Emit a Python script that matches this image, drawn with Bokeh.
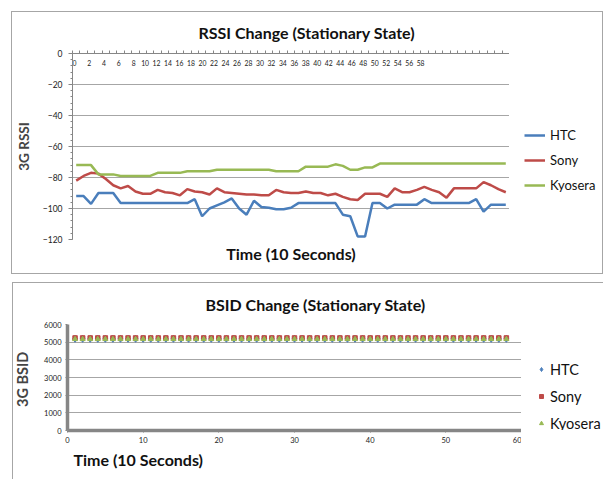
from bokeh.plotting import figure
from bokeh.models import (LinearAxis, FixedTicker, SingleIntervalTicker, Range1d, Legend,
                          LegendItem, Title, Grid)
from bokeh.layouts import column, row
from bokeh.embed import file_html
from bokeh.resources import INLINE

FONT = "Lato"

# ---------------- data: RSSI (dBm), one sample per 10 s ----------------
time_idx = list(range(59))
htc_rssi = [-92, -92, -97, -90, -90, -90, -96.5, -96.5, -96.5, -96.5,
            -96.5, -96.5, -96.5, -96.5, -96.5, -96.5, -94, -105, -100, -98,
            -96, -93.5, -100, -104, -95, -99, -99.5, -100.5, -100.5, -99.5,
            -96.5, -96.5, -96.5, -96.5, -96.5, -96.5, -104, -105, -118, -118,
            -96.5, -96.5, -100, -97.5, -97.5, -97.5, -97.5, -94, -96.5, -96.5,
            -96.5, -96.5, -96.5, -96.5, -94, -102, -97.5, -97.5, -97.5]
sony_rssi = [-82, -79, -77, -77.5, -81, -85, -87, -85.5, -89, -90.5,
             -90.5, -88, -89.5, -90, -91.5, -87.5, -89, -89.5, -91, -87,
             -89.5, -90, -90.5, -91, -91, -91.5, -91.5, -88, -89.5, -90,
             -90, -89, -90, -90, -91.5, -90.5, -92.5, -94, -94.5, -90.5,
             -90.5, -90.5, -92.5, -87, -89.5, -89.5, -88, -86, -88, -89.5,
             -93, -87, -87, -87, -87, -83, -85, -87.5, -89.5]
kyocera_rssi = [-72, -72, -72, -78, -78, -78, -79, -79, -79, -79,
                -79, -77, -77, -77, -77, -76, -76, -76, -76, -75,
                -75, -75, -75, -75, -75, -75, -75, -76, -76, -76,
                -76, -73, -73, -73, -73, -71.5, -72.5, -75, -75, -73.5,
                -73.5, -71, -71, -71, -71, -71, -71, -71, -71, -71,
                -71, -71, -71, -71, -71, -71, -71, -71, -71]
rssi_tick_labels = list(range(0, 59, 2))

# ---------------- data: BSID ----------------
bsid_time = list(range(1, 59))
htc_bsid = [5190, 5190, 5190, 5190, 5190, 5190, 5190, 5190, 5190, 5190,
            5190, 5190, 5190, 5190, 5190, 5190, 5190, 5190, 5190, 5190,
            5190, 5190, 5190, 5190, 5190, 5190, 5190, 5190, 5190, 5190,
            5190, 5190, 5190, 5190, 5190, 5190, 5190, 5190, 5190, 5190,
            5190, 5190, 5190, 5190, 5190, 5190, 5190, 5190, 5190, 5190,
            5190, 5190, 5190, 5190, 5190, 5190, 5190, 5190]
sony_bsid = [5240, 5240, 5240, 5240, 5240, 5240, 5240, 5240, 5240, 5240,
             5240, 5240, 5240, 5240, 5240, 5240, 5240, 5240, 5240, 5240,
             5240, 5240, 5240, 5240, 5240, 5240, 5240, 5240, 5240, 5240,
             5240, 5240, 5240, 5240, 5240, 5240, 5240, 5240, 5240, 5240,
             5240, 5240, 5240, 5240, 5240, 5240, 5240, 5240, 5240, 5240,
             5240, 5240, 5240, 5240, 5240, 5240, 5240, 5240]
kyocera_bsid = [5170, 5170, 5170, 5170, 5170, 5170, 5170, 5170, 5170, 5170,
                5170, 5170, 5170, 5170, 5170, 5170, 5170, 5170, 5170, 5170,
                5170, 5170, 5170, 5170, 5170, 5170, 5170, 5170, 5170, 5170,
                5170, 5170, 5170, 5170, 5170, 5170, 5170, 5170, 5170, 5170,
                5170, 5170, 5170, 5170, 5170, 5170, 5170, 5170, 5170, 5170,
                5170, 5170, 5170, 5170, 5170, 5170, 5170, 5170]

BLUE, RED, GREEN = "#4A7EBB", "#BE4B48", "#98B954"
AXIS_GRAY = "#868686"
GRID_GRAY = "#a6a6a6"
BORDER_GRAY = "#a6a6a6"


def border_styles(lines):
    """lines: list of (x, y, w, h) in px -> CSS background drawing thin chart border."""
    grad = f"linear-gradient({BORDER_GRAY},{BORDER_GRAY})"
    return {
        "background-image": ", ".join([grad] * len(lines)),
        "background-position": ", ".join(f"{x}px {y}px" for x, y, w, h in lines),
        "background-size": ", ".join(f"{w}px {h}px" for x, y, w, h in lines),
        "background-repeat": "no-repeat",
        "background-color": "white",
    }


def transparent(p):
    p.outline_line_color = None
    p.border_fill_color = None
    p.background_fill_color = None


def legend_panel(width, height, series, loc, **legend_kw):
    """Small side figure holding the legend (glyphs mirror the main chart's styles)."""
    lp = figure(width=width, height=height, x_range=Range1d(0, 1), y_range=Range1d(0, 1),
                output_backend="svg", toolbar_location=None,
                x_axis_location=None, y_axis_location=None, min_border=0)
    transparent(lp)
    lp.grid.visible = False
    items = []
    for label, kind, xs, ys, kw in series:
        if kind == "line":
            r = lp.line(xs, ys, **kw)       # values lie outside this panel's ranges
        else:
            r = lp.scatter(xs, ys, **kw)
        items.append(LegendItem(label=label, renderers=[r]))
    leg = Legend(items=items, location=loc, padding=0, margin=0,
                 border_line_color=None, background_fill_alpha=0,
                 label_text_font=FONT, label_text_color="#111111", **legend_kw)
    lp.add_layout(leg, "center")
    return lp


# ================= top chart: RSSI =================
p1 = figure(width=509, height=276, x_range=Range1d(-0.5, 58.5), y_range=Range1d(-120, 0),
            output_backend="svg", toolbar_location=None,
            x_axis_location=None, y_axis_location=None,
            min_border_left=72, min_border_right=0, min_border_top=53, min_border_bottom=37)
transparent(p1)
p1.grid.visible = False

yax = LinearAxis(ticker=SingleIntervalTicker(interval=20, num_minor_ticks=5),
                 axis_label="3G RSSI")
yax.axis_line_color = AXIS_GRAY
yax.major_tick_line_color = AXIS_GRAY
yax.minor_tick_line_color = AXIS_GRAY
yax.major_tick_out = 4
yax.major_tick_in = 0
yax.minor_tick_out = 2
yax.minor_tick_in = 0
yax.major_label_standoff = 6
yax.major_label_text_font = FONT
yax.major_label_text_font_size = "8.5px"
yax.major_label_text_color = "#222222"
yax.axis_label_text_font = FONT
yax.axis_label_text_font_style = "bold"
yax.axis_label_text_font_size = "13.5px"
yax.axis_label_standoff = 8
p1.add_layout(yax, "left")
p1.add_layout(Grid(dimension=1, ticker=yax.ticker, grid_line_color=GRID_GRAY,
                   grid_line_width=1.2))

# top category axis (labels sit just below the axis line)
label_pos = [v - 0.25 if v <= 8 else 7.75 + (v - 8) * 0.775 for v in rssi_tick_labels]
xax = LinearAxis(ticker=FixedTicker(ticks=label_pos,
                                    minor_ticks=[i - 0.5 for i in range(len(time_idx) + 1)]),
                 major_label_overrides={pos: str(v) for pos, v in zip(label_pos, rssi_tick_labels)})
xax.axis_line_color = AXIS_GRAY
xax.major_tick_out = 0
xax.major_tick_in = 0
xax.minor_tick_out = 3
xax.minor_tick_in = 0
xax.minor_tick_line_color = AXIS_GRAY
xax.major_label_standoff = -15
xax.major_label_text_font = FONT
xax.major_label_text_font_size = "6.8px"
xax.major_label_text_color = "#222222"
p1.add_layout(xax, "above")

p1.title = Title(text="RSSI Change (Stationary State)", align="left", offset=126,
                 text_font=FONT, text_font_size="16px", text_font_style="bold",
                 text_color="#111111", standoff=23)
p1.add_layout(Title(text="Time (10 Seconds)", align="center",
                    text_font=FONT, text_font_size="16px", text_font_style="bold",
                    text_color="#111111", standoff=5), "below")

p1.line(time_idx, htc_rssi, line_color=BLUE, line_width=2.5)
p1.line(time_idx, sony_rssi, line_color=RED, line_width=2.5)
p1.line(time_idx, kyocera_rssi, line_color=GREEN, line_width=2.5)

lg1 = legend_panel(94, 276, [
    ("HTC", "line", time_idx, htc_rssi, dict(line_color=BLUE, line_width=2.5)),
    ("Sony", "line", time_idx, sony_rssi, dict(line_color=RED, line_width=2.5)),
    ("Kyosera", "line", time_idx, kyocera_rssi, dict(line_color=GREEN, line_width=2.5)),
], (15, 44), spacing=5, glyph_width=21, glyph_height=20, label_height=20,
    label_standoff=5, label_text_font_size="13px")

top = row(p1, lg1, spacing=0)
top.styles = border_styles([(11, 11, 592, 1), (11, 273, 592, 1), (11, 11, 1, 263), (602, 11, 1, 263)])

# ================= bottom chart: BSID =================
p2 = figure(width=521, height=203, x_range=Range1d(0, 60), y_range=Range1d(0, 6000),
            output_backend="svg", toolbar_location=None,
            min_border_left=67, min_border_right=0, min_border_top=48, min_border_bottom=49)
transparent(p2)
p2.xgrid.grid_line_color = None
p2.ygrid.grid_line_color = GRID_GRAY
p2.ygrid.grid_line_width = 1.2
p2.xaxis.ticker = SingleIntervalTicker(interval=10, num_minor_ticks=0)
p2.yaxis.ticker = SingleIntervalTicker(interval=1000, num_minor_ticks=0)
for ax in (p2.xaxis[0], p2.yaxis[0]):
    ax.axis_line_color = AXIS_GRAY
    ax.axis_line_width = 3.5
    ax.major_tick_line_color = AXIS_GRAY
    ax.major_tick_in = 0
    ax.major_tick_out = 2
    ax.minor_tick_line_color = None
    ax.major_label_text_font = FONT
    ax.major_label_text_font_size = "7.5px"
    ax.major_label_text_color = "#222222"
    ax.major_label_standoff = 4
p2.yaxis.axis_label = "3G  BSID"
p2.yaxis.axis_label_text_font = FONT
p2.yaxis.axis_label_text_font_style = "bold"
p2.yaxis.axis_label_text_font_size = "14.5px"
p2.yaxis.axis_label_standoff = 10

p2.title = Title(text="BSID Change (Stationary State)", align="left", offset=138,
                 text_font=FONT, text_font_size="16px", text_font_style="bold",
                 text_color="#111111", standoff=21)
p2.add_layout(Title(text="Time (10 Seconds)", align="left", offset=6,
                    text_font=FONT, text_font_size="16px", text_font_style="bold",
                    text_color="#111111", standoff=4), "below")

p2.scatter(bsid_time, htc_bsid, marker="diamond", size=7, color=BLUE)
p2.scatter(bsid_time, sony_bsid, marker="square", size=4.5, color=RED)
p2.scatter(bsid_time, kyocera_bsid, marker="triangle", size=5, color=GREEN)

lg2 = legend_panel(82, 203, [
    ("HTC", "scatter", bsid_time, htc_bsid, dict(marker="diamond", size=7, color=BLUE)),
    ("Sony", "scatter", bsid_time, sony_bsid, dict(marker="square", size=4.5, color=RED)),
    ("Kyosera", "scatter", bsid_time, kyocera_bsid, dict(marker="triangle", size=5, color=GREEN)),
], (15, -2), spacing=9, glyph_width=10, glyph_height=18, label_height=18,
    label_standoff=4, label_text_font_size="14.5px")

bottom = row(p2, lg2, spacing=0)
bottom.styles = border_styles([(12, 6, 591, 1), (12, 6, 1, 197)])

layout = column(top, bottom, spacing=0)
open("out.html", "w").write(file_html(layout, INLINE))
